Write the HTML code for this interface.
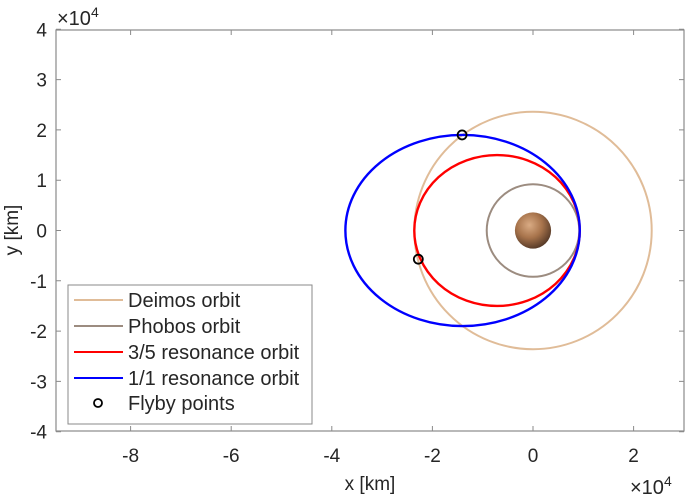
<!DOCTYPE html>
<html><head><meta charset="utf-8"><style>
body{margin:0;background:#fff;}
svg text{font-family:"Liberation Sans",Arial,sans-serif;fill:#262626;}
</style></head><body>
<svg id="chart" width="685" height="498" viewBox="0 0 685 498">
<defs>
<radialGradient id="mars" cx="40%" cy="35%" r="70%">
<stop offset="0" stop-color="#d9ab84"/><stop offset="0.5" stop-color="#a8744c"/><stop offset="1" stop-color="#4e3424"/>
</radialGradient>
<clipPath id="clip"><rect x="56" y="30" width="628" height="401"/></clipPath>
</defs>
<rect x="56" y="30" width="628" height="401" fill="#fff"/>
<g id="ticks"></g>
<g id="marks" clip-path="url(#clip)"></g>
<rect x="56" y="30" width="628" height="401" fill="none" stroke="#8a8a8a" stroke-width="1.2"/>
<text x="57" y="25" font-size="20">×10<tspan dy="-8" font-size="14">4</tspan></text>
<text x="630" y="494" font-size="20">×10<tspan dy="-8" font-size="14">4</tspan></text>
<text x="370" y="490" font-size="19" text-anchor="middle">x [km]</text>
<text transform="translate(18,230) rotate(-90)" font-size="19" text-anchor="middle">y [km]</text>
<g>
<rect x="68" y="285" width="244" height="139" fill="#fff" stroke="#8a8a8a"/>
<line x1="74" y1="300" x2="123" y2="300" stroke="#e0bc98" stroke-width="2"/>
<text x="128" y="307" font-size="20">Deimos orbit</text>
<line x1="74" y1="326" x2="123" y2="326" stroke="#9c8c80" stroke-width="2"/>
<text x="128" y="333" font-size="20">Phobos orbit</text>
<line x1="74" y1="352" x2="123" y2="352" stroke="#ff0000" stroke-width="2"/>
<text x="128" y="359" font-size="20">3/5 resonance orbit</text>
<line x1="74" y1="378" x2="123" y2="378" stroke="#0000ff" stroke-width="2"/>
<text x="128" y="385" font-size="20">1/1 resonance orbit</text>
<circle cx="98" cy="403" r="4" fill="none" stroke="#000" stroke-width="1.8"/>
<text x="128" y="410" font-size="20">Flyby points</text>
</g>
</svg>
<script>
const xTicks=[-8,-6,-4,-2,0,2];
const yTicks=[-4,-3,-2,-1,0,1,2,3,4];
const orbitNames=['deimos-orbit','phobos-orbit','resonance-3-5-orbit','resonance-1-1-orbit'];
const orbitCx=[0,0,-0.715,-1.4];
const orbitCy=[0,0,0,0];
const orbitA=[2.36,0.92,1.645,2.33];
const orbitB=[2.36,0.92,1.5,1.9];
const orbitColors=['#e0bc98','#9c8c80','#ff0000','#0000ff'];
const flybyX=[-1.41,-2.28];
const flybyY=[1.9,-0.57];
const marsR=0.36;
const NS='http://www.w3.org/2000/svg';
const X0=533,Y0=230.5,S=50.3;
const sx=v=>X0+v*S, sy=v=>Y0-v*S;
const tg=document.getElementById('ticks'), mg=document.getElementById('marks'), svg=document.getElementById('chart');
function mk(t,a,p){const e=document.createElementNS(NS,t);for(const k in a)e.setAttribute(k,a[k]);(p||mg).appendChild(e);return e;}
xTicks.forEach(v=>{
 const x=sx(v);
 const l=mk('path',{d:`M${x},431v-5M${x},30v5`,stroke:'#8a8a8a',fill:'none'},tg);
 
 
 const t=mk('text',{x:x,y:462,'font-size':19,'text-anchor':'middle'},svg);
 t.textContent=String(v);
 
 
});
yTicks.forEach(v=>{
 const y=sy(v);
 const l=mk('path',{d:`M56,${y}h5M684,${y}h-5`,stroke:'#8a8a8a',fill:'none'},tg);
 
 
 const t=mk('text',{x:47,y:y+7,'font-size':19,'text-anchor':'end'},svg);
 t.textContent=String(v);
 
 
});
orbitNames.forEach((n,i)=>{
 const e=mk('ellipse',{cx:sx(orbitCx[i]),cy:sy(orbitCy[i]),rx:orbitA[i]*S,ry:orbitB[i]*S,fill:'none',stroke:orbitColors[i],'stroke-width':i<2?2:2.4});
 
 
});
const m=mk('circle',{cx:sx(0),cy:sy(0),r:marsR*S,fill:'url(#mars)'});


flybyX.forEach((v,i)=>{
 const c=mk('circle',{cx:sx(v),cy:sy(flybyY[i]),r:4.5,fill:'none',stroke:'#000','stroke-width':1.8});
 
 
});
</script>
</body></html>
